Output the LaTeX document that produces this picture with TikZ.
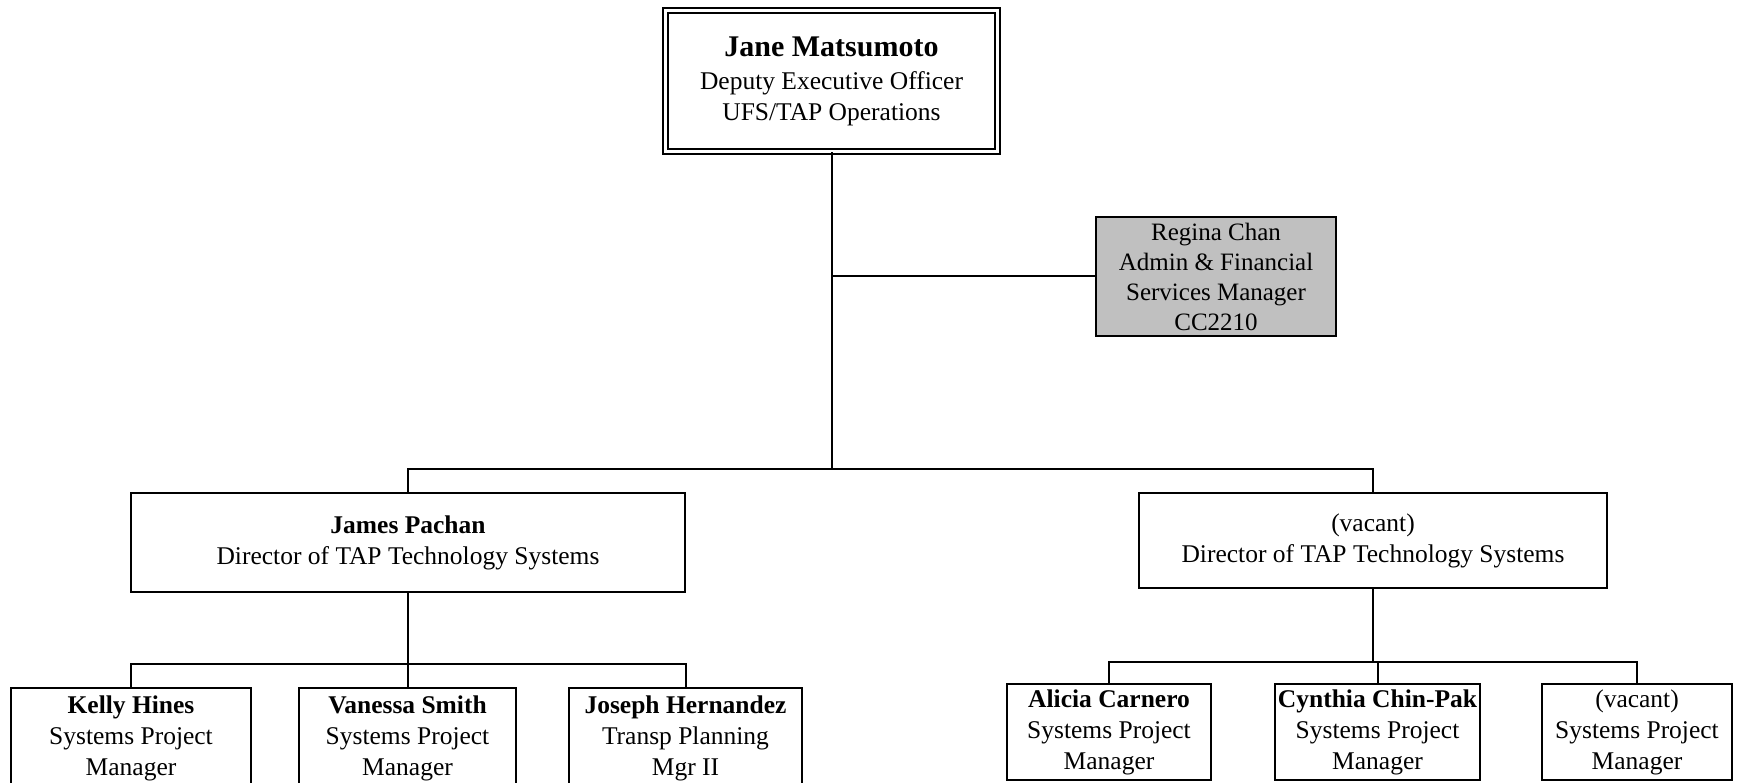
\documentclass[tikz,border=0pt]{standalone}
\usepackage{fontspec}
\setmainfont{Liberation Serif}
\begin{document}
\begin{tikzpicture}[x=1pt,y=-1pt,
  box/.style={draw, line width=2pt, rectangle, inner sep=0pt, align=center,
    font=\fontsize{25.5}{31}\selectfont},
  link/.style={line width=2pt}]
\useasboundingbox (0,0) rectangle (1744,783);
\clip (0,0) rectangle (1744,783);
\fill[white] (0,0) rectangle (1744,783);

% top
\node[box, double, double distance=3pt, line width=1.6pt, minimum width=332pt, minimum height=141pt]
  (jane) at (831.5,81) {{\fontsize{30}{35}\selectfont\bfseries Jane Matsumoto}\\[2pt]Deputy Executive Officer\\UFS/TAP Operations};

% assistant
\node[box, fill={rgb,255:red,192;green,192;blue,192}, minimum width=240pt, minimum height=119pt,
  font=\fontsize{25}{30}\selectfont]
  (regina) at (1216,276.5) {Regina Chan\\Admin \& Financial\\Services Manager\\CC2210};

% directors
\node[box, minimum width=554pt, minimum height=99pt] (james) at (408,542.5)
  {\textbf{James Pachan}\\Director of TAP Technology Systems};
\node[box, minimum width=468pt, minimum height=95pt] (vacdir) at (1373,540.5)
  {(vacant)\\Director of TAP Technology Systems};

% left reports
\node[box, minimum width=240pt, minimum height=100pt] (kelly) at (131,738)
  {\textbf{Kelly Hines}\\Systems Project\\Manager};
\node[box, minimum width=217pt, minimum height=100pt] (vanessa) at (407.5,738)
  {\textbf{Vanessa Smith}\\Systems Project\\Manager};
\node[box, minimum width=233pt, minimum height=100pt] (joseph) at (685.5,738)
  {\textbf{Joseph Hernandez}\\Transp Planning\\Mgr II};

% right reports
\node[box, minimum width=204pt, minimum height=96pt] (alicia) at (1109,732)
  {\textbf{Alicia Carnero}\\Systems Project\\Manager};
\node[box, minimum width=205pt, minimum height=96pt] (cynthia) at (1377.5,732)
  {\textbf{Cynthia Chin-Pak}\\Systems Project\\Manager};
\node[box, minimum width=190pt, minimum height=96pt] (vacspm) at (1637,732)
  {(vacant)\\Systems Project\\Manager};

% bus levels
\coordinate (mbus) at (0,469);
\coordinate (lbus) at (0,664);
\coordinate (rbus) at (0,662);

% connectors
\draw[link] (jane.south) -- (jane.south |- mbus);
\draw[link] (jane.south |- regina.west) -- (regina.west);
\draw[link] (james.north) -- (james.north |- mbus) -- (vacdir.north |- mbus) -- (vacdir.north);

\draw[link] (james.south) -- (james.south |- lbus);
\draw[link] (kelly.north) -- (kelly.north |- lbus) -- (joseph.north |- lbus) -- (joseph.north);
\draw[link] (vanessa.north) -- (vanessa.north |- lbus);

\draw[link] (vacdir.south) -- (vacdir.south |- rbus);
\draw[link] (alicia.north) -- (alicia.north |- rbus) -- (vacspm.north |- rbus) -- (vacspm.north);
\draw[link] (cynthia.north) -- (cynthia.north |- rbus);
\end{tikzpicture}
\end{document}
